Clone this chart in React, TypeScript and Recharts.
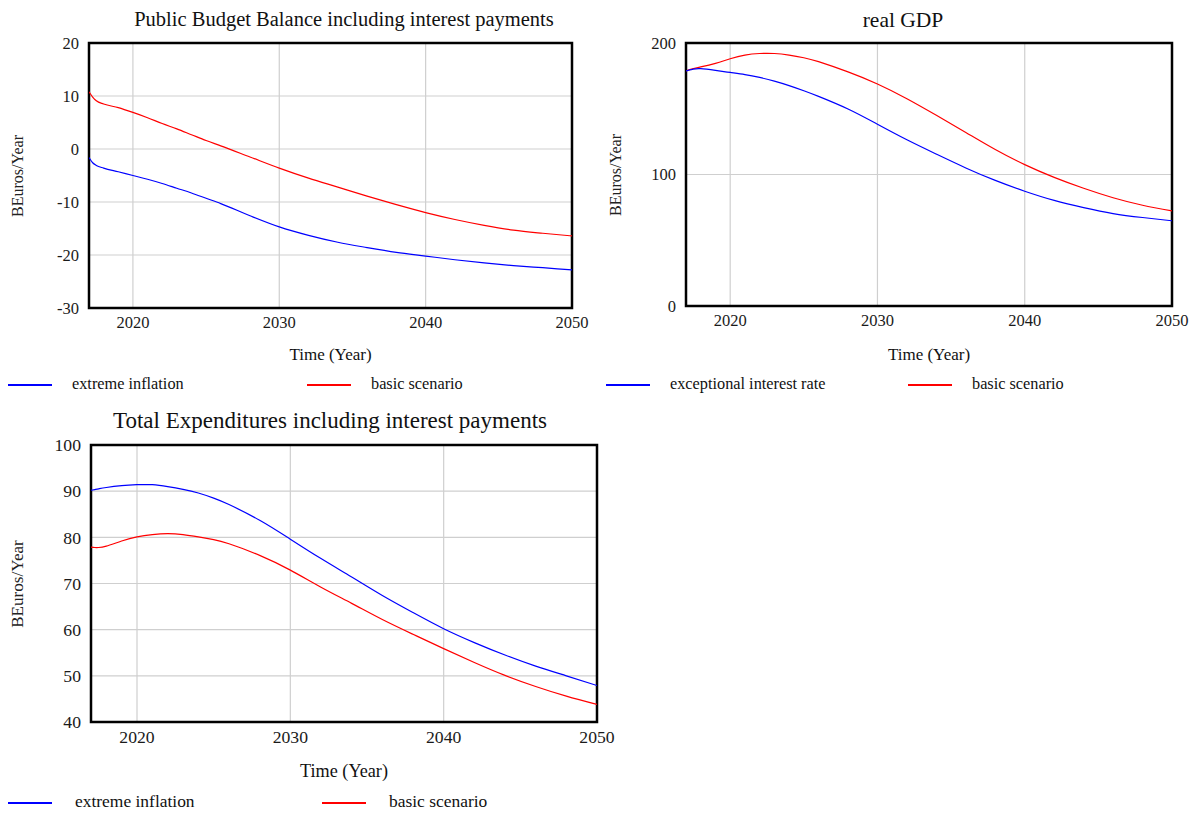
import React from 'react';
import { LineChart, Line, XAxis, YAxis, CartesianGrid, ReferenceArea } from 'recharts';

// time points (years) shared by all series
const years = [2017, 2017.25, 2017.5, 2018, 2019, 2020, 2021, 2022, 2023, 2024, 2025, 2026, 2028, 2030, 2032, 2034, 2036, 2038, 2040, 2042, 2044, 2046, 2048, 2050];

// Public Budget Balance including interest payments
const budgetInflation = [-1.6, -2.6, -3.1, -3.6, -4.3, -5.0, -5.7, -6.5, -7.4, -8.3, -9.3, -10.3, -12.6, -14.7, -16.3, -17.6, -18.6, -19.5, -20.2, -20.9, -21.5, -22.0, -22.4, -22.8];
const budgetBasic = [10.8, 9.8, 9.1, 8.5, 7.8, 6.9, 5.9, 4.8, 3.8, 2.7, 1.6, 0.6, -1.5, -3.6, -5.5, -7.2, -8.9, -10.5, -12.0, -13.3, -14.4, -15.3, -15.9, -16.4];

// real GDP
const gdpInterest = [178.8, 179.6, 180.2, 180.5, 179.2, 177.6, 176.0, 173.8, 171.0, 167.6, 163.7, 159.4, 149.8, 138.2, 126.4, 115.5, 105.0, 95.5, 87.3, 80.3, 74.8, 70.3, 67.3, 64.8];
const gdpBasic = [178.8, 179.8, 180.6, 181.8, 184.5, 188.0, 190.8, 192.0, 192.0, 190.8, 188.8, 185.8, 178.0, 168.8, 157.6, 145.0, 132.0, 119.0, 107.5, 97.8, 89.5, 82.3, 76.6, 72.3];

// Total Expenditures including interest payments
const expInflation = [90.2, 90.35, 90.5, 90.8, 91.2, 91.4, 91.4, 91.0, 90.4, 89.6, 88.5, 87.1, 83.7, 79.6, 75.4, 71.4, 67.4, 63.7, 60.2, 57.2, 54.5, 52.1, 50.0, 47.9];
const expBasic = [77.9, 77.8, 77.8, 78.1, 79.2, 80.1, 80.6, 80.8, 80.6, 80.1, 79.5, 78.6, 76.1, 72.9, 69.2, 65.7, 62.2, 59.0, 55.9, 52.9, 50.1, 47.7, 45.6, 43.8];

const xTicks = [2020, 2030, 2040, 2050];

const serif = '"Liberation Serif", "Times New Roman", serif';
const BLUE = '#0000ff';
const RED = '#ff0000';

interface PanelProps {
  left: number;
  top: number;
  width: number;
  height: number;
  plotLeft: number;
  plotTop: number;
  plotRight: number;
  plotBottom: number;
  title: string;
  titleX: number;
  titleSize: number;
  scale: number;
  curve: 'monotone' | 'natural';
  blue: number[];
  red: number[];
  blueName: string;
  yDomain: [number, number];
  yTicks: number[];
  legendY: number;
  legendRedX: number;
  legendTextX: number;
  xLabelY: number;
}

const Panel: React.FC<PanelProps> = (p) => {
  const data = years.map((t, i) => ({ t, blue: p.blue[i], red: p.red[i] }));
  const yAxisW = 44;
  const tickStyle = { fontFamily: serif, fontSize: 16.5 * p.scale, fill: '#1a1a1a' };
  return (
    <div style={{ position: 'absolute', left: p.left, top: p.top, width: p.width, height: p.height }}>
      <div style={{ position: 'absolute', left: p.titleX - 300, width: 600, top: 8, textAlign: 'center', fontFamily: serif, fontSize: p.titleSize, color: '#111', whiteSpace: 'nowrap' }}>
        {p.title}
      </div>
      <div style={{ position: 'absolute', left: 18, top: (p.plotTop + p.plotBottom) / 2, transform: 'translate(-50%, -50%) rotate(-90deg)', fontFamily: serif, fontSize: 16 * p.scale, color: '#222', whiteSpace: 'nowrap' }}>
        BEuros/Year
      </div>
      <div style={{ position: 'absolute', left: (p.plotLeft + p.plotRight) / 2 - 100, width: 200, top: p.xLabelY - 10 * p.scale, textAlign: 'center', fontFamily: serif, fontSize: 17 * p.scale, color: '#111' }}>
        Time (Year)
      </div>
      <div style={{ position: 'absolute', left: 0, top: 0 }}>
        <LineChart
          width={p.plotRight + 30}
          height={p.plotBottom + 32}
          data={data}
          margin={{ top: p.plotTop, right: 30, left: p.plotLeft - yAxisW, bottom: 2 }}
        >
          <CartesianGrid stroke="#cfcfcf" strokeWidth={1.2} />
          <XAxis
            dataKey="t"
            type="number"
            domain={[2017, 2050]}
            ticks={xTicks}
            allowDataOverflow
            axisLine={false}
            tickLine={false}
            tick={tickStyle}
            tickMargin={2}
            height={30}
          />
          <YAxis
            type="number"
            domain={p.yDomain}
            ticks={p.yTicks}
            allowDataOverflow
            width={yAxisW}
            axisLine={false}
            tickLine={false}
            tick={tickStyle}
            tickMargin={4}
            interval={0}
          />
          <Line type={p.curve} dataKey="red" stroke={RED} strokeWidth={1.2} dot={false} isAnimationActive={false} />
          <Line type={p.curve} dataKey="blue" stroke={BLUE} strokeWidth={1.2} dot={false} isAnimationActive={false} />
          <ReferenceArea
            x1={2017}
            x2={2050}
            y1={p.yDomain[0]}
            y2={p.yDomain[1]}
            fill="none"
            fillOpacity={0}
            stroke="#000"
            strokeWidth={2.5}
            ifOverflow="visible"
          />
        </LineChart>
      </div>
      <div style={{ position: 'absolute', left: 8, top: p.legendY - 1, width: 44, height: 2, background: BLUE }} />
      <div style={{ position: 'absolute', left: p.legendTextX, top: p.legendY - 11 * p.scale, fontFamily: serif, fontSize: 16.3 * p.scale, color: '#111', whiteSpace: 'nowrap' }}>
        {p.blueName}
      </div>
      <div style={{ position: 'absolute', left: p.legendRedX, top: p.legendY - 1, width: 44, height: 2, background: RED }} />
      <div style={{ position: 'absolute', left: p.legendRedX + p.legendTextX - 8, top: p.legendY - 11 * p.scale, fontFamily: serif, fontSize: 16.3 * p.scale, color: '#111', whiteSpace: 'nowrap' }}>
        basic scenario
      </div>
    </div>
  );
};

export default function App() {
  return (
    <div style={{ position: 'absolute', left: 0, top: 0, width: 1196, height: 814, background: '#fff' }}>
      <Panel
        left={0} top={0} width={600} height={400}
        plotLeft={89} plotTop={43} plotRight={572} plotBottom={308}
        title="Public Budget Balance including interest payments" titleX={344} titleSize={20.5}
        scale={1} curve="monotone"
        blue={budgetInflation} red={budgetBasic} blueName="extreme inflation"
        yDomain={[-30, 20]} yTicks={[-30, -20, -10, 0, 10, 20]}
        legendY={385} legendRedX={307} legendTextX={72} xLabelY={355}
      />
      <Panel
        left={598} top={0} width={598} height={400}
        plotLeft={88} plotTop={43} plotRight={574} plotBottom={306}
        title="real GDP" titleX={305} titleSize={21.5}
        scale={1} curve="natural"
        blue={gdpInterest} red={gdpBasic} blueName="exceptional interest rate"
        yDomain={[0, 200]} yTicks={[0, 100, 200]}
        legendY={385} legendRedX={310} legendTextX={72} xLabelY={355}
      />
      <Panel
        left={0} top={400} width={620} height={414}
        plotLeft={91} plotTop={45} plotRight={597} plotBottom={322}
        title="Total Expenditures including interest payments" titleX={330} titleSize={23}
        scale={1.07} curve="natural"
        blue={expInflation} red={expBasic} blueName="extreme inflation"
        yDomain={[40, 100]} yTicks={[40, 50, 60, 70, 80, 90, 100]}
        legendY={403} legendRedX={322} legendTextX={75} xLabelY={372}
      />
    </div>
  );
}
